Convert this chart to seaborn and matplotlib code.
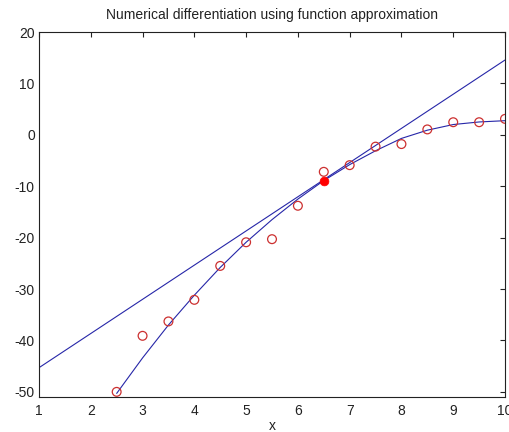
import pandas as pd
import matplotlib
matplotlib.use("Agg")
import matplotlib.pyplot as plt
import seaborn as sns

# Measured samples
x_data = [2.5, 3.0, 3.5, 4.0, 4.5, 5.0, 5.5, 6.0, 6.5, 7.0, 7.5, 8.0, 8.5, 9.0, 9.5, 10.0]
y_data = [-50.0, -39.1, -36.3, -32.1, -25.5, -20.9, -20.3, -13.8, -7.2, -5.9,
          -2.3, -1.8, 1.05, 2.45, 2.45, 3.1]

# Approximating function evaluated at the sample abscissae
y_fit = [-50.3, -43.4, -37.0, -31.2, -25.8, -20.9, -16.5, -12.5, -8.9, -5.8,
         -3.1, -0.7, 0.9, 2.0, 2.5, 2.75]

# Point where the derivative is estimated, and the tangent line through it
x0 = 6.5
y0 = -8.9
tangent_x = [1.0, 10.0]
tangent_y = [-45.3, 14.55]

fit_df = pd.DataFrame({"x": x_data, "y": y_fit})
tan_df = pd.DataFrame({"x": tangent_x, "y": tangent_y})
pts_df = pd.DataFrame({"x": x_data, "y": y_data})

sns.set_style("white")
plt.rcParams["font.family"] = ["Liberation Sans", "DejaVu Sans"]
plt.rcParams["axes.unicode_minus"] = False

fig = plt.figure(figsize=(5.10, 4.32), dpi=100)
ax = fig.add_axes([39 / 510, 1 - 397 / 432, 466 / 510, 365 / 432])

line_color = "#2626a8"
sns.lineplot(data=fit_df, x="x", y="y", ax=ax, color=line_color, linewidth=0.8,
             sort=True, estimator=None)
sns.lineplot(data=tan_df, x="x", y="y", ax=ax, color=line_color, linewidth=0.8,
             estimator=None)
sns.scatterplot(data=pts_df, x="x", y="y", ax=ax, marker="o", s=40,
                facecolor="none", edgecolor="#cc3030", linewidth=0.9, zorder=3)
sns.scatterplot(x=[x0], y=[y0], ax=ax, marker="o", s=40, color="#ff0000",
                edgecolor="#ff0000", linewidth=0.5, zorder=4)

ax.set_xlim(1, 10)
ax.set_ylim(-51, 20)
ax.set_xticks(range(1, 11))
ax.set_yticks([-50, -40, -30, -20, -10, 0, 10, 20])
ax.tick_params(direction="in", length=3.5, width=0.8, top=True, right=True,
               labelsize=10, colors="#222222", pad=3)
ax.tick_params(axis="x", pad=5)
for s in ax.spines.values():
    s.set_color("#222222")
    s.set_linewidth(0.8)

ax.set_title("Numerical differentiation using function approximation",
             fontsize=10, pad=9, color="#222222")
ax.set_xlabel("x", fontsize=10, labelpad=0.5, color="#222222")
ax.set_ylabel("")

fig.savefig("out.png", dpi=100)
